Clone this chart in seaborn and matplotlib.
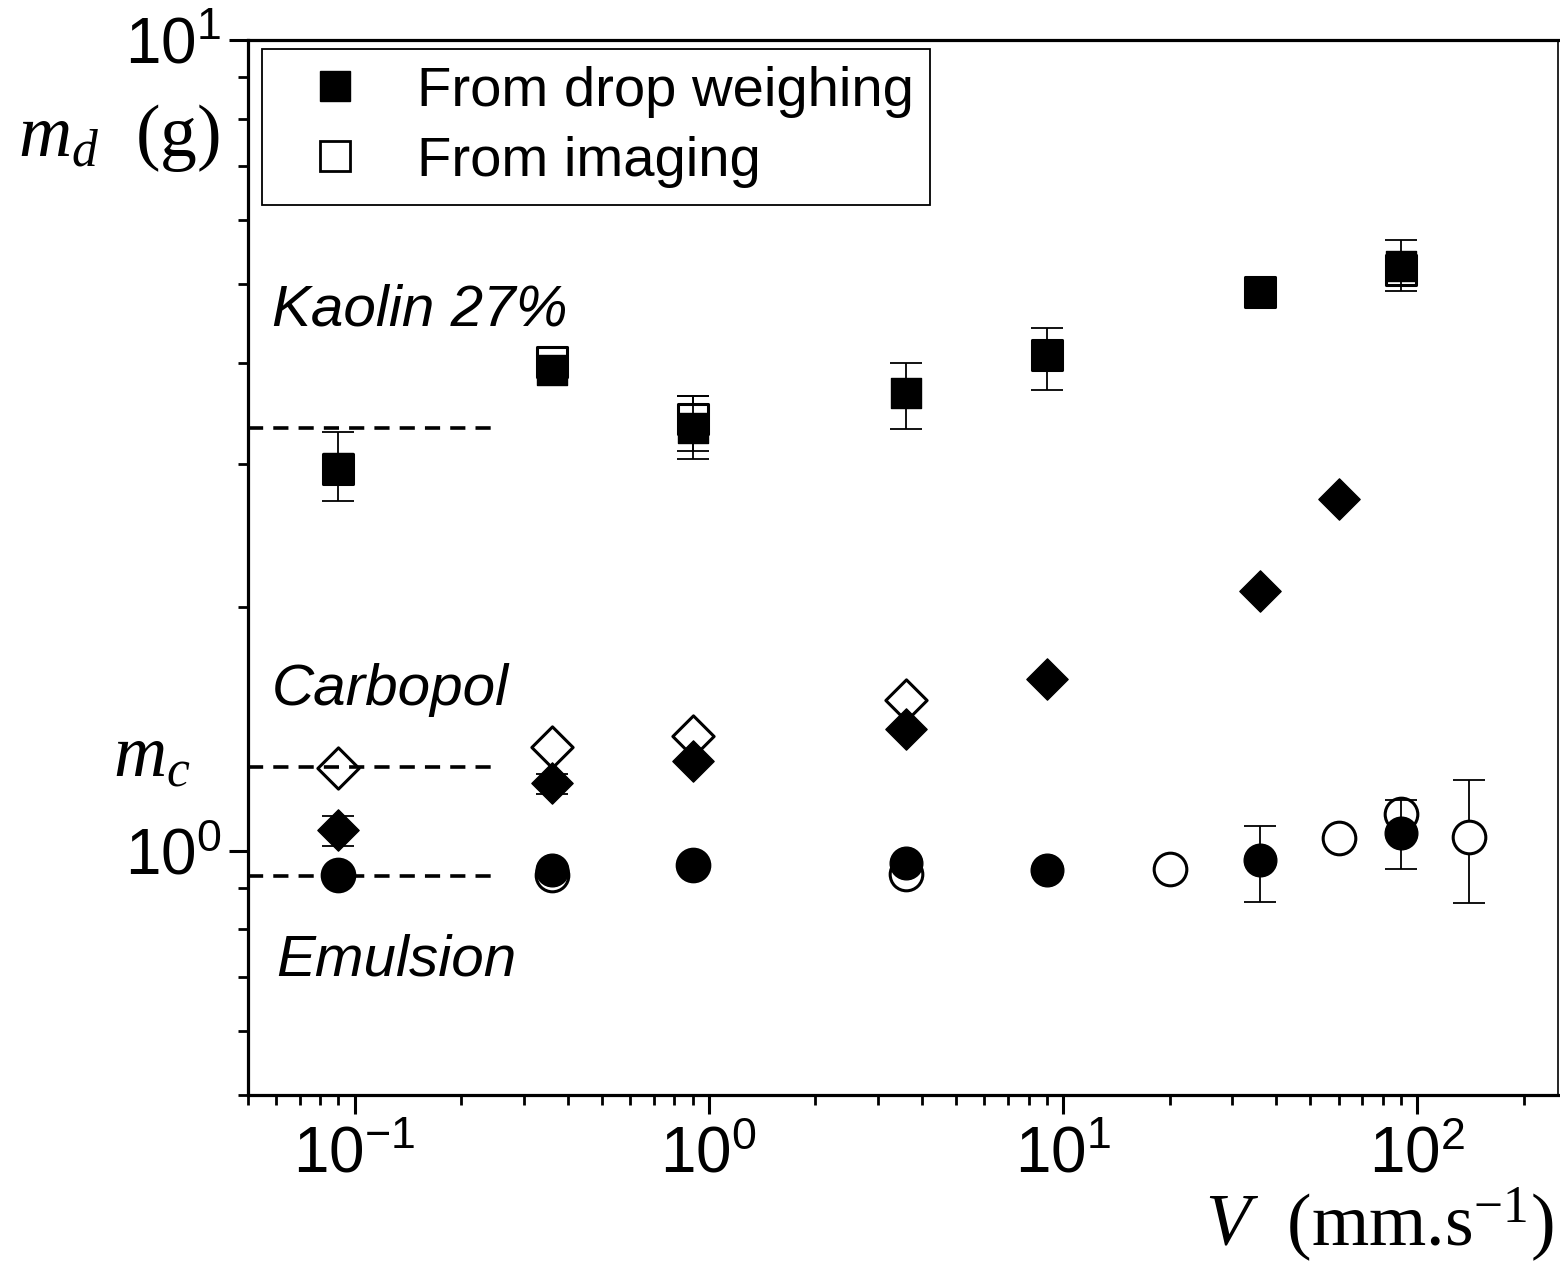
import numpy as np
import matplotlib
matplotlib.use("Agg")
import matplotlib.pyplot as plt
import seaborn as sns
from matplotlib.lines import Line2D
from matplotlib.ticker import LogLocator, NullFormatter, FuncFormatter

# ---------------- data ----------------
# Kaolin 27 %
kaolin_v_weigh = [0.09, 0.36, 0.9, 3.6, 9, 36, 90]
kaolin_m_weigh = [2.97, 3.92, 3.32, 3.67, 4.09, 4.89, 5.26]
kaolin_v_img = [0.09, 0.36, 0.9, 9, 36, 90]
kaolin_m_img = [2.96, 4.01, 3.41, 4.09, 4.89, 5.20]
kaolin_err_v_weigh = [0.09, 0.9, 3.6, 9, 90]
kaolin_err_lo_weigh = [2.70, 3.04, 3.31, 3.70, 4.90]
kaolin_err_hi_weigh = [3.29, 3.64, 4.00, 4.42, 5.66]
kaolin_err_v_img = [0.9, 90]
kaolin_err_lo_img = [3.11, 5.02]
kaolin_err_hi_img = [3.64, 5.40]

# Carbopol
carbopol_v_weigh = [0.09, 0.36, 0.9, 3.6, 9, 36, 60]
carbopol_m_weigh = [1.061, 1.212, 1.290, 1.413, 1.628, 2.09, 2.715]
carbopol_v_img = [0.09, 0.36, 0.9, 3.6]
carbopol_m_img = [1.265, 1.342, 1.385, 1.534]
carbopol_err_v_weigh = [0.09, 0.36]
carbopol_err_lo_weigh = [1.014, 1.175]
carbopol_err_hi_weigh = [1.103, 1.243]

# Emulsion
emulsion_v_weigh = [0.09, 0.36, 0.9, 3.6, 9, 36, 90]
emulsion_m_weigh = [0.933, 0.947, 0.960, 0.966, 0.947, 0.974, 1.052]
emulsion_v_img = [0.09, 0.36, 0.9, 3.6, 20, 60, 90, 140]
emulsion_m_img = [0.933, 0.935, 0.960, 0.936, 0.949, 1.036, 1.109, 1.040]
emulsion_err_v_weigh = [36, 90]
emulsion_err_lo_weigh = [0.865, 0.949]
emulsion_err_hi_weigh = [1.073, 1.155]
emulsion_err_v_img = [140]
emulsion_err_lo_img = [0.863]
emulsion_err_hi_img = [1.222]

# critical masses (dashed lines), drawn for V between these bounds
ref_levels = [3.32, 1.27, 0.93]
ref_v_range = [0.05, 0.25]

legend_labels = ["From drop weighing", "From imaging"]
material_labels = ["Kaolin 27%", "Carbopol", "Emulsion"]
x_ticks = [0.1, 1, 10, 100]
y_ticks = [1, 10]

# ---------------- style ----------------
sns.set_theme(style="ticks")
plt.rcParams["font.family"] = ["Liberation Sans", "DejaVu Sans"]
plt.rcParams["mathtext.fontset"] = "custom"
plt.rcParams["mathtext.rm"] = "Liberation Serif"
plt.rcParams["mathtext.it"] = "Liberation Serif:italic"
plt.rcParams["mathtext.bf"] = "Liberation Serif:bold"
plt.rcParams["text.color"] = "black"
plt.rcParams["xtick.color"] = "black"
plt.rcParams["ytick.color"] = "black"

W, H = 1560, 1269
fig = plt.figure(figsize=(W / 100, H / 100), dpi=100)
ax = fig.add_axes([248 / W, 1 - 1095 / H, (1558 - 248) / W, (1095 - 40) / H])

S_SQ, S_DI, S_CI = 22.0 ** 2, 21.0 ** 2, 23.5 ** 2
ERR_LW = 1.3
CAP = 11.5


def errbars(v, lo, hi, mids, vall, z):
    m = [mids[vall.index(x)] for x in v]
    lower = np.array(m) - np.array(lo)
    upper = np.array(hi) - np.array(m)
    ax.errorbar(v, m, yerr=[lower, upper], fmt="none", ecolor="black",
                elinewidth=ERR_LW, capsize=CAP, capthick=ERR_LW, zorder=z)


# open ("from imaging") error bars then markers
errbars(kaolin_err_v_img, kaolin_err_lo_img, kaolin_err_hi_img, kaolin_m_img, kaolin_v_img, 2)
errbars(emulsion_err_v_img, emulsion_err_lo_img, emulsion_err_hi_img, emulsion_m_img, emulsion_v_img, 2)

open_kw = dict(facecolor="white", edgecolor="black", linewidth=2.2, ax=ax, legend=False, zorder=3)
sns.scatterplot(x=kaolin_v_img, y=kaolin_m_img, marker="s", s=S_SQ, **open_kw)
sns.scatterplot(x=carbopol_v_img, y=carbopol_m_img, marker="D", s=S_DI, **open_kw)
sns.scatterplot(x=emulsion_v_img, y=emulsion_m_img, marker="o", s=S_CI, **open_kw)

# filled ("from drop weighing") error bars then markers
errbars(kaolin_err_v_weigh, kaolin_err_lo_weigh, kaolin_err_hi_weigh, kaolin_m_weigh, kaolin_v_weigh, 4)
errbars(carbopol_err_v_weigh, carbopol_err_lo_weigh, carbopol_err_hi_weigh, carbopol_m_weigh, carbopol_v_weigh, 4)
errbars(emulsion_err_v_weigh, emulsion_err_lo_weigh, emulsion_err_hi_weigh, emulsion_m_weigh, emulsion_v_weigh, 4)

fill_kw = dict(facecolor="black", edgecolor="black", linewidth=1.0, ax=ax, legend=False, zorder=5)
sns.scatterplot(x=kaolin_v_weigh, y=kaolin_m_weigh, marker="s", s=S_SQ, **fill_kw)
sns.scatterplot(x=carbopol_v_weigh, y=carbopol_m_weigh, marker="D", s=S_DI, **fill_kw)
sns.scatterplot(x=emulsion_v_weigh, y=emulsion_m_weigh, marker="o", s=S_CI, **fill_kw)

# dashed reference lines
for lvl in ref_levels:
    ax.plot(ref_v_range, [lvl, lvl], color="black", lw=2.6, dashes=(4.2, 2.8), zorder=6)

# ---------------- axes ----------------
ax.set_xscale("log")
ax.set_yscale("log")
ax.set_xlim(0.05, 250)
ax.set_ylim(0.5, 10)
ax.set_xticks(x_ticks)
ax.set_yticks(y_ticks)
fmt = FuncFormatter(lambda v, _: r"$\mathregular{10^{%d}}$" % int(round(np.log10(v))))
ax.xaxis.set_major_formatter(fmt)
ax.yaxis.set_major_formatter(fmt)
ax.xaxis.set_minor_locator(LogLocator(base=10, subs=np.arange(2, 10), numticks=20))
ax.yaxis.set_minor_locator(LogLocator(base=10, subs=np.arange(2, 10), numticks=20))
ax.xaxis.set_minor_formatter(NullFormatter())
ax.yaxis.set_minor_formatter(NullFormatter())
ax.tick_params(which="major", direction="out", length=14, width=2.2, labelsize=46,
               colors="black", labelcolor="black", pad=5, top=False, right=False)
ax.tick_params(which="minor", direction="out", length=7, width=2.0, top=False, right=False)
ax.tick_params(axis="x", which="major", pad=8)
for side in ["left", "bottom", "top"]:
    ax.spines[side].set_linewidth(2.3)
    ax.spines[side].set_color("black")
ax.spines["right"].set_linewidth(1.2)
ax.spines["right"].set_color("black")
ax.set_xlabel("")
ax.set_ylabel("")
ax.set_facecolor("white")
ax.grid(False)

# ---------------- legend ----------------
handles = [
    Line2D([], [], ls="none", marker="s", markersize=22, markerfacecolor="black",
           markeredgecolor="black", markeredgewidth=1.0),
    Line2D([], [], ls="none", marker="s", markersize=21, markerfacecolor="white",
           markeredgecolor="black", markeredgewidth=2.0),
]
leg = ax.legend(handles, legend_labels, loc="upper left",
                bbox_to_anchor=((262 - 248) / 1310, 1 - 9 / 1055),
                borderaxespad=0, fontsize=40.5, frameon=True, fancybox=False,
                edgecolor="black", framealpha=1, borderpad=0.3, handlelength=2.0,
                handletextpad=0.45, labelspacing=0.32)
leg.get_frame().set_linewidth(1.3)
leg.set_zorder(10)
for t in leg.get_texts():
    t.set_color("black")

# ---------------- texts ----------------
def fx(px):
    return px / W


def fy(py):
    return 1 - py / H


txt_kw = dict(fontsize=42, style="italic", family=["Liberation Sans", "DejaVu Sans"], color="black")
fig.text(fx(272), fy(326), material_labels[0], ha="left", va="baseline", **txt_kw)
fig.text(fx(272), fy(705), material_labels[1], ha="left", va="baseline", **txt_kw)
fig.text(fx(276), fy(976), material_labels[2], ha="left", va="baseline", **txt_kw)

serif = ["Liberation Serif", "DejaVu Serif"]
fig.text(fx(18), fy(156), r"$m_d$  (g)", fontsize=53, family=serif, ha="left",
         va="baseline", color="black")
fig.text(fx(113), fy(776), r"$m_c$", fontsize=53, family=serif, ha="left",
         va="baseline", color="black")
fig.text(fx(1553), fy(1246), r"$V$  (mm.s$^{-1}$)", fontsize=53, family=serif,
         ha="right", va="baseline", color="black")

fig.savefig("out.png", dpi=100, facecolor="white")
